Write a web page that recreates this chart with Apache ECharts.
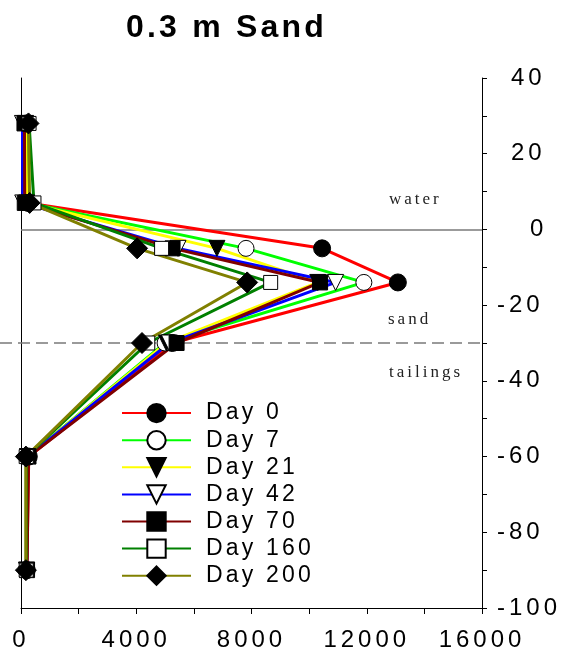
<!DOCTYPE html>
<html>
<head>
<meta charset="utf-8">
<script src="https://cdn.jsdelivr.net/npm/echarts@6/dist/echarts.min.js"></script>
<style>
  html, body { margin: 0; padding: 0; background: #fff; }
  #chart { width: 569px; height: 663px; }
</style>
</head>
<body>
<div id="chart"></div>
<script>
// Wide letter spacing for canvas text, chosen by font size (px -> spacing px)
const TRACKING = { 32: 3.2, 24: 4, 23: 3.2, 17: 3 };
(function () {
  const proto = CanvasRenderingContext2D.prototype;
  const desc = Object.getOwnPropertyDescriptor(proto, 'font');
  if (!desc || !('letterSpacing' in proto)) return;
  Object.defineProperty(proto, 'font', {
    configurable: true,
    get() { return desc.get.call(this); },
    set(v) {
      desc.set.call(this, v);
      const m = /(\d+(?:\.\d+)?)px/.exec(v);
      const px = m ? Math.round(+m[1]) : 0;
      this.letterSpacing = (TRACKING[px] || 0) + 'px';
    }
  });
})();

// Sampling depths (cm) and concentrations per sampling day
const depth  = [28, 7, -5, -14, -30, -60, -90];
const day0   = [200, 250, 10450, 13080, 5250, 270, 200];
const day7   = [180, 230, 7810, 11900, 5000, 230, 190];
const day21  = [160, 200, 6800, 10300, 5050, 230, 190];
const day42  = [50, 60, 5450, 10920, 5150, 230, 200];
const day70  = [120, 130, 5260, 10380, 5400, 260, 210];
const day160 = [280, 450, 4880, 8665, 4400, 180, 180];
const day200 = [260, 300, 4030, 7850, 4200, 170, 170];

const seriesNames = ['Day 0', 'Day 7', 'Day 21', 'Day 42', 'Day 70', 'Day 160', 'Day 200'];
const seriesValues = [day0, day7, day21, day42, day70, day160, day200];

const xTicks = { min: 0, max: 16000, step: 2000, labelStep: 4000 };
const yTicks = { min: -100, max: 40, step: 10, labelStep: 20 };

// Layer boundaries: water/sand interface and sand/tailings interface
const waterLevel = 0;
const tailingsTop = -30;

// Appearance of each profile
const looks = [
  { line: '#ff0000', symbol: 'circle',   size: 17, fill: '#000', rotate: 0 },
  { line: '#00ff00', symbol: 'circle',   size: 16, fill: '#fff', rotate: 0 },
  { line: '#ffff00', symbol: 'triangle', size: 16, fill: '#000', rotate: 180 },
  { line: '#0000ff', symbol: 'triangle', size: 16, fill: '#fff', rotate: 180 },
  { line: '#800000', symbol: 'rect',     size: 15, fill: '#000', rotate: 0 },
  { line: '#008000', symbol: 'rect',     size: 14, fill: '#fff', rotate: 0 },
  { line: '#808000', symbol: 'diamond',  size: 21, fill: '#000', rotate: 0 }
];

const series = seriesNames.map((name, i) => {
  const lk = looks[i];
  const s = {
    name: name,
    type: 'line',
    yAxisIndex: 0,
    data: seriesValues[i].map((v, k) => [v, depth[k]]),
    symbol: lk.symbol,
    symbolSize: lk.size,
    symbolRotate: lk.rotate,
    showAllSymbol: true,
    lineStyle: { color: lk.line, width: 3 },
    itemStyle: { color: lk.fill, borderColor: '#000', borderWidth: 1 },
    emphasis: { disabled: true },
    z: 3
  };
  if (i === 0) {
    s.markLine = {
      silent: true,
      symbol: 'none',
      z: 1,
      label: { show: false },
      data: [
        { yAxis: waterLevel, lineStyle: { type: 'solid', color: '#7a7a7a', width: 1.5 } }
      ]
    };
  }
  return s;
});

const chart = echarts.init(document.getElementById('chart'), null, { renderer: 'canvas' });

chart.setOption({
  animation: false,
  backgroundColor: '#fff',
  title: {
    text: '0.3 m Sand',
    left: 121,
    top: 6,
    textStyle: { fontFamily: 'Arial', fontSize: 32, fontWeight: 'bold', color: '#000' }
  },
  grid: { left: 21, right: 87, top: 78, bottom: 55, containLabel: false, outerBoundsMode: 'none' },
  legend: {
    orient: 'vertical',
    left: 116,
    top: 395,
    itemWidth: 69,
    itemHeight: 23,
    itemGap: 0.9,
    selectedMode: false,
    textStyle: { fontFamily: 'Arial', fontSize: 23, lineHeight: 23, color: '#000', padding: [0, 0, 0, 10] },
    data: seriesNames
  },
  xAxis: {
    type: 'value',
    min: xTicks.min,
    max: xTicks.max,
    interval: xTicks.step,
    axisLine: { show: true, onZero: false, lineStyle: { color: '#000', width: 1 } },
    axisTick: { show: true, length: 6, lineStyle: { color: '#000' } },
    splitLine: { show: false },
    axisLabel: {
      fontFamily: 'Arial', fontSize: 24, color: '#000', margin: 18,
      formatter: v => (v % xTicks.labelStep === 0 ? String(v) : '')
    }
  },
  yAxis: [
    {
      type: 'value',
      position: 'right',
      min: yTicks.min,
      max: yTicks.max,
      interval: yTicks.step,
      axisLine: { show: true, onZero: false, lineStyle: { color: '#000', width: 1 } },
      axisTick: { show: true, length: 5, lineStyle: { color: '#000' } },
      splitLine: { show: false },
      axisLabel: {
        fontFamily: 'Arial', fontSize: 24, color: '#000', margin: 15, align: 'left',
        formatter: v => {
          if (v % yTicks.labelStep !== 0) return '';
          if (v === 0) return '{one|' + v + '}';
          if (v > 0) return '{two|' + v + '}';
          return String(v);
        },
        rich: {
          one: { fontFamily: 'Arial', fontSize: 24, color: '#000', padding: [0, 0, 0, 33] },
          two: { fontFamily: 'Arial', fontSize: 24, color: '#000', padding: [0, 0, 0, 14] }
        }
      }
    },
    {
      type: 'value',
      position: 'left',
      min: yTicks.min,
      max: yTicks.max,
      axisLine: { show: true, onZero: false, lineStyle: { color: '#000', width: 1 } },
      axisTick: { show: false },
      axisLabel: { show: false },
      splitLine: { show: false }
    }
  ],
  series: series
});

// Sand/tailings boundary: dashed, running from the page edge to the right axis;
// layer names placed beside the plot's right edge
const yTail = chart.convertToPixel({ yAxisIndex: 0 }, tailingsTop);
const xRight = chart.convertToPixel({ xAxisIndex: 0 }, xTicks.max);
const labelFont = '17px "Liberation Serif"';
chart.setOption({
  graphic: [
    {
      type: 'line', z: 1, silent: true,
      shape: { x1: 0, y1: yTail, x2: xRight, y2: yTail },
      style: { stroke: '#7a7a7a', lineWidth: 1.5, lineDash: [12, 6] }
    },
    { type: 'text', left: 389, top: 190, style: { text: 'water', font: labelFont, fill: '#222' } },
    { type: 'text', left: 388, top: 310, style: { text: 'sand', font: labelFont, fill: '#222' } },
    { type: 'text', left: 389, top: 363, style: { text: 'tailings', font: labelFont, fill: '#222' } }
  ]
});
</script>
</body>
</html>
